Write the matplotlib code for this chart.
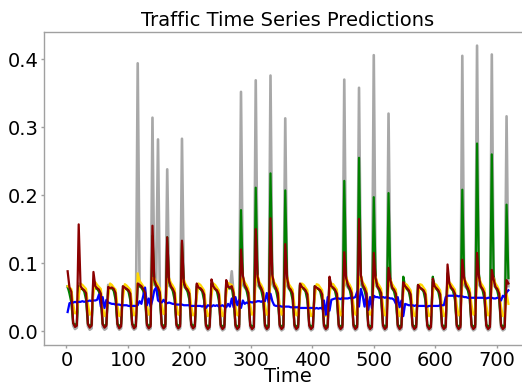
import numpy as np
import matplotlib
matplotlib.use("Agg")
import matplotlib.pyplot as plt

# Hours of the day at which each series is sampled (every 3 hours)
hours = [2, 5, 8, 11, 14, 17, 20, 23]

# Observed traffic, one row per day
actual = [
    [0.064, 0.060, 0.056, 0.008, 0.003, 0.005, 0.070, 0.064],
    [0.062, 0.060, 0.055, 0.007, 0.002, 0.004, 0.075, 0.066],
    [0.063, 0.061, 0.054, 0.006, 0.002, 0.004, 0.068, 0.065],
    [0.064, 0.062, 0.055, 0.006, 0.002, 0.004, 0.066, 0.063],
    [0.062, 0.060, 0.054, 0.006, 0.002, 0.004, 0.394, 0.066],
    [0.064, 0.061, 0.055, 0.005, 0.002, 0.004, 0.314, 0.068],
    [0.066, 0.282, 0.056, 0.006, 0.002, 0.004, 0.238, 0.067],
    [0.064, 0.062, 0.055, 0.006, 0.002, 0.004, 0.283, 0.066],
    [0.063, 0.061, 0.054, 0.006, 0.002, 0.004, 0.068, 0.064],
    [0.062, 0.060, 0.053, 0.005, 0.001, 0.003, 0.070, 0.064],
    [0.062, 0.060, 0.053, 0.005, 0.001, 0.003, 0.069, 0.063],
    [0.062, 0.088, 0.054, 0.005, 0.001, 0.003, 0.352, 0.068],
    [0.064, 0.061, 0.055, 0.005, 0.001, 0.003, 0.369, 0.068],
    [0.064, 0.061, 0.055, 0.005, 0.001, 0.003, 0.376, 0.069],
    [0.064, 0.061, 0.055, 0.005, 0.001, 0.003, 0.313, 0.067],
    [0.062, 0.060, 0.054, 0.005, 0.001, 0.003, 0.068, 0.064],
    [0.062, 0.060, 0.054, 0.005, 0.001, 0.003, 0.066, 0.063],
    [0.062, 0.060, 0.053, 0.005, 0.001, 0.003, 0.072, 0.064],
    [0.063, 0.060, 0.054, 0.005, 0.001, 0.003, 0.370, 0.068],
    [0.064, 0.061, 0.055, 0.005, 0.001, 0.003, 0.358, 0.069],
    [0.064, 0.061, 0.055, 0.005, 0.001, 0.003, 0.406, 0.068],
    [0.064, 0.061, 0.055, 0.005, 0.001, 0.003, 0.320, 0.067],
    [0.062, 0.060, 0.054, 0.005, 0.001, 0.003, 0.070, 0.064],
    [0.062, 0.060, 0.054, 0.005, 0.001, 0.003, 0.067, 0.063],
    [0.062, 0.060, 0.053, 0.005, 0.001, 0.003, 0.072, 0.064],
    [0.062, 0.060, 0.053, 0.005, 0.001, 0.003, 0.075, 0.065],
    [0.063, 0.060, 0.054, 0.005, 0.001, 0.003, 0.405, 0.068],
    [0.064, 0.061, 0.055, 0.005, 0.001, 0.003, 0.420, 0.069],
    [0.064, 0.061, 0.055, 0.005, 0.001, 0.003, 0.407, 0.068],
    [0.064, 0.061, 0.055, 0.005, 0.001, 0.003, 0.316, 0.066],
]

# Model predictions, one row per day
pred_green = [
    [0.066, 0.055, 0.042, 0.012, 0.008, 0.012, 0.066, 0.062],
    [0.062, 0.058, 0.046, 0.011, 0.007, 0.010, 0.070, 0.063],
    [0.062, 0.058, 0.046, 0.011, 0.007, 0.010, 0.062, 0.063],
    [0.063, 0.059, 0.046, 0.011, 0.007, 0.010, 0.062, 0.062],
    [0.062, 0.058, 0.045, 0.011, 0.007, 0.010, 0.066, 0.066],
    [0.064, 0.059, 0.046, 0.011, 0.007, 0.010, 0.140, 0.072],
    [0.066, 0.060, 0.047, 0.011, 0.007, 0.010, 0.138, 0.072],
    [0.065, 0.059, 0.046, 0.011, 0.007, 0.010, 0.130, 0.070],
    [0.063, 0.058, 0.046, 0.011, 0.007, 0.010, 0.066, 0.063],
    [0.062, 0.058, 0.045, 0.010, 0.006, 0.009, 0.070, 0.064],
    [0.062, 0.058, 0.045, 0.010, 0.006, 0.009, 0.070, 0.064],
    [0.063, 0.064, 0.046, 0.010, 0.006, 0.009, 0.178, 0.080],
    [0.066, 0.060, 0.047, 0.010, 0.006, 0.009, 0.211, 0.082],
    [0.066, 0.060, 0.047, 0.010, 0.006, 0.009, 0.232, 0.082],
    [0.066, 0.060, 0.047, 0.010, 0.006, 0.009, 0.207, 0.080],
    [0.063, 0.058, 0.046, 0.010, 0.006, 0.009, 0.068, 0.064],
    [0.062, 0.058, 0.045, 0.010, 0.006, 0.009, 0.066, 0.063],
    [0.062, 0.058, 0.045, 0.010, 0.006, 0.009, 0.076, 0.065],
    [0.063, 0.059, 0.046, 0.010, 0.006, 0.009, 0.221, 0.080],
    [0.066, 0.060, 0.047, 0.010, 0.006, 0.009, 0.255, 0.082],
    [0.066, 0.060, 0.047, 0.010, 0.006, 0.009, 0.197, 0.080],
    [0.065, 0.059, 0.046, 0.010, 0.006, 0.009, 0.203, 0.078],
    [0.063, 0.058, 0.046, 0.010, 0.006, 0.009, 0.080, 0.066],
    [0.062, 0.058, 0.045, 0.010, 0.006, 0.009, 0.068, 0.063],
    [0.062, 0.058, 0.045, 0.010, 0.006, 0.009, 0.080, 0.066],
    [0.062, 0.058, 0.045, 0.010, 0.006, 0.009, 0.085, 0.068],
    [0.063, 0.059, 0.046, 0.010, 0.006, 0.009, 0.208, 0.080],
    [0.066, 0.060, 0.047, 0.010, 0.006, 0.009, 0.276, 0.084],
    [0.066, 0.060, 0.047, 0.010, 0.006, 0.009, 0.260, 0.082],
    [0.065, 0.059, 0.046, 0.010, 0.006, 0.009, 0.186, 0.078],
]

pred_gold = [
    [0.066, 0.064, 0.062, 0.040, 0.026, 0.027, 0.050, 0.070],
    [0.068, 0.065, 0.062, 0.040, 0.024, 0.026, 0.056, 0.072],
    [0.068, 0.065, 0.062, 0.038, 0.022, 0.025, 0.050, 0.070],
    [0.068, 0.064, 0.061, 0.038, 0.022, 0.025, 0.048, 0.069],
    [0.067, 0.064, 0.061, 0.038, 0.023, 0.026, 0.085, 0.074],
    [0.070, 0.066, 0.062, 0.039, 0.024, 0.027, 0.078, 0.078],
    [0.072, 0.068, 0.063, 0.040, 0.025, 0.027, 0.075, 0.078],
    [0.071, 0.067, 0.062, 0.039, 0.024, 0.026, 0.072, 0.076],
    [0.069, 0.065, 0.061, 0.038, 0.023, 0.025, 0.050, 0.070],
    [0.068, 0.064, 0.060, 0.037, 0.022, 0.025, 0.052, 0.070],
    [0.068, 0.064, 0.060, 0.037, 0.022, 0.025, 0.054, 0.071],
    [0.069, 0.068, 0.061, 0.038, 0.023, 0.026, 0.070, 0.080],
    [0.072, 0.068, 0.062, 0.039, 0.024, 0.027, 0.074, 0.082],
    [0.072, 0.068, 0.062, 0.039, 0.024, 0.027, 0.076, 0.082],
    [0.072, 0.068, 0.062, 0.039, 0.024, 0.027, 0.072, 0.080],
    [0.069, 0.065, 0.061, 0.038, 0.023, 0.025, 0.052, 0.070],
    [0.068, 0.064, 0.060, 0.037, 0.022, 0.025, 0.050, 0.069],
    [0.068, 0.064, 0.060, 0.037, 0.022, 0.025, 0.054, 0.070],
    [0.069, 0.065, 0.061, 0.038, 0.023, 0.026, 0.070, 0.080],
    [0.072, 0.068, 0.062, 0.039, 0.024, 0.027, 0.074, 0.082],
    [0.072, 0.068, 0.062, 0.039, 0.024, 0.027, 0.072, 0.080],
    [0.071, 0.067, 0.062, 0.038, 0.023, 0.026, 0.066, 0.076],
    [0.069, 0.065, 0.061, 0.037, 0.022, 0.025, 0.056, 0.070],
    [0.068, 0.064, 0.060, 0.037, 0.022, 0.025, 0.050, 0.069],
    [0.068, 0.064, 0.060, 0.037, 0.022, 0.025, 0.056, 0.070],
    [0.068, 0.064, 0.060, 0.037, 0.022, 0.025, 0.060, 0.072],
    [0.069, 0.065, 0.061, 0.038, 0.023, 0.026, 0.068, 0.078],
    [0.072, 0.068, 0.062, 0.039, 0.024, 0.027, 0.074, 0.080],
    [0.071, 0.067, 0.062, 0.038, 0.023, 0.026, 0.070, 0.078],
    [0.070, 0.066, 0.060, 0.036, 0.022, 0.025, 0.056, 0.040],
]

pred_blue = [
    [0.028, 0.041, 0.042, 0.042, 0.043, 0.042, 0.043, 0.043],
    [0.044, 0.043, 0.044, 0.044, 0.045, 0.044, 0.045, 0.045],
    [0.046, 0.054, 0.036, 0.050, 0.034, 0.046, 0.042, 0.041],
    [0.040, 0.040, 0.039, 0.039, 0.039, 0.038, 0.038, 0.038],
    [0.038, 0.037, 0.037, 0.037, 0.037, 0.037, 0.038, 0.044],
    [0.040, 0.052, 0.064, 0.038, 0.048, 0.036, 0.046, 0.060],
    [0.064, 0.045, 0.043, 0.042, 0.046, 0.042, 0.041, 0.042],
    [0.041, 0.040, 0.040, 0.039, 0.039, 0.039, 0.039, 0.038],
    [0.038, 0.038, 0.038, 0.037, 0.037, 0.037, 0.037, 0.037],
    [0.037, 0.036, 0.038, 0.034, 0.038, 0.037, 0.036, 0.038],
    [0.037, 0.038, 0.036, 0.037, 0.038, 0.036, 0.035, 0.040],
    [0.036, 0.048, 0.035, 0.050, 0.038, 0.046, 0.034, 0.045],
    [0.040, 0.042, 0.041, 0.043, 0.042, 0.043, 0.043, 0.044],
    [0.044, 0.043, 0.045, 0.044, 0.056, 0.042, 0.055, 0.044],
    [0.038, 0.037, 0.037, 0.037, 0.036, 0.036, 0.036, 0.036],
    [0.036, 0.035, 0.035, 0.035, 0.035, 0.035, 0.034, 0.034],
    [0.034, 0.034, 0.034, 0.034, 0.034, 0.034, 0.033, 0.034],
    [0.033, 0.034, 0.033, 0.045, 0.024, 0.050, 0.030, 0.046],
    [0.047, 0.048, 0.048, 0.048, 0.047, 0.049, 0.048, 0.048],
    [0.048, 0.049, 0.048, 0.049, 0.050, 0.058, 0.036, 0.062],
    [0.052, 0.036, 0.055, 0.031, 0.050, 0.034, 0.052, 0.050],
    [0.050, 0.049, 0.050, 0.050, 0.049, 0.050, 0.049, 0.048],
    [0.048, 0.046, 0.040, 0.050, 0.035, 0.045, 0.022, 0.040],
    [0.039, 0.038, 0.038, 0.038, 0.037, 0.038, 0.037, 0.037],
    [0.037, 0.037, 0.037, 0.036, 0.037, 0.037, 0.037, 0.037],
    [0.037, 0.037, 0.038, 0.038, 0.038, 0.050, 0.052, 0.052],
    [0.052, 0.052, 0.052, 0.052, 0.051, 0.052, 0.051, 0.050],
    [0.050, 0.049, 0.049, 0.049, 0.049, 0.049, 0.049, 0.049],
    [0.049, 0.049, 0.049, 0.048, 0.049, 0.049, 0.049, 0.048],
    [0.048, 0.049, 0.049, 0.045, 0.052, 0.050, 0.057, 0.060],
]

pred_red = [
    [0.088, 0.064, 0.058, 0.012, 0.006, 0.008, 0.157, 0.066],
    [0.062, 0.060, 0.056, 0.010, 0.005, 0.008, 0.087, 0.066],
    [0.063, 0.061, 0.055, 0.010, 0.005, 0.008, 0.065, 0.063],
    [0.064, 0.062, 0.056, 0.010, 0.004, 0.007, 0.066, 0.064],
    [0.062, 0.060, 0.055, 0.010, 0.004, 0.007, 0.070, 0.068],
    [0.066, 0.062, 0.056, 0.009, 0.004, 0.007, 0.155, 0.075],
    [0.068, 0.064, 0.057, 0.009, 0.004, 0.007, 0.138, 0.074],
    [0.066, 0.062, 0.056, 0.009, 0.004, 0.007, 0.133, 0.072],
    [0.064, 0.061, 0.055, 0.009, 0.004, 0.007, 0.070, 0.064],
    [0.063, 0.060, 0.054, 0.008, 0.003, 0.006, 0.076, 0.066],
    [0.062, 0.060, 0.054, 0.008, 0.003, 0.006, 0.075, 0.065],
    [0.064, 0.066, 0.056, 0.008, 0.003, 0.006, 0.120, 0.082],
    [0.068, 0.063, 0.056, 0.008, 0.003, 0.006, 0.150, 0.080],
    [0.068, 0.063, 0.056, 0.008, 0.003, 0.006, 0.166, 0.082],
    [0.068, 0.063, 0.056, 0.008, 0.003, 0.006, 0.128, 0.078],
    [0.064, 0.061, 0.055, 0.008, 0.003, 0.006, 0.070, 0.065],
    [0.063, 0.060, 0.054, 0.008, 0.003, 0.006, 0.066, 0.064],
    [0.062, 0.060, 0.054, 0.008, 0.003, 0.006, 0.080, 0.066],
    [0.064, 0.061, 0.055, 0.008, 0.003, 0.006, 0.116, 0.078],
    [0.068, 0.063, 0.056, 0.008, 0.003, 0.006, 0.165, 0.082],
    [0.068, 0.063, 0.056, 0.008, 0.003, 0.006, 0.115, 0.078],
    [0.066, 0.062, 0.056, 0.008, 0.003, 0.006, 0.093, 0.075],
    [0.064, 0.061, 0.055, 0.008, 0.003, 0.006, 0.072, 0.066],
    [0.063, 0.060, 0.054, 0.008, 0.003, 0.006, 0.068, 0.064],
    [0.062, 0.060, 0.054, 0.008, 0.003, 0.006, 0.077, 0.066],
    [0.063, 0.060, 0.054, 0.008, 0.003, 0.006, 0.098, 0.070],
    [0.064, 0.061, 0.055, 0.008, 0.003, 0.006, 0.105, 0.078],
    [0.068, 0.063, 0.056, 0.008, 0.003, 0.006, 0.115, 0.080],
    [0.066, 0.062, 0.056, 0.008, 0.003, 0.006, 0.090, 0.076],
    [0.065, 0.062, 0.055, 0.008, 0.003, 0.006, 0.075, 0.070],
]

x_ticks = [0, 100, 200, 300, 400, 500, 600, 700]
y_ticks = [0.0, 0.1, 0.2, 0.3, 0.4]

n_days = len(actual)
t = (24 * np.arange(n_days)[:, None] + np.array(hours)[None, :]).ravel()

fig = plt.figure(figsize=(5.22, 3.87), dpi=100)
ax = fig.add_axes([44.3 / 522, 42 / 387, (530.5 - 44.3) / 522, (345 - 31.7) / 387])

ax.plot(t, np.ravel(actual), color="#a8a8a8", lw=1.9, zorder=1)
ax.plot(t, np.ravel(pred_green), color="green", lw=1.6, zorder=2)
ax.plot(t, np.ravel(pred_gold), color="gold", lw=1.6, zorder=3)
ax.plot(t, np.ravel(pred_blue), color="blue", lw=1.6, zorder=4)
ax.plot(t, np.ravel(pred_red), color="darkred", lw=1.6, zorder=5)

ax.set_xlim(-35.95, 754.95)
ax.set_ylim(-0.0205, 0.4405)
ax.set_xticks(x_ticks)
ax.set_yticks(y_ticks)
ax.set_xticklabels([str(v) for v in x_ticks])
ax.set_yticklabels([f"{v:.1f}" for v in y_ticks])

for s in ax.spines.values():
    s.set_color("#a0a0a0")
    s.set_linewidth(1.0)
ax.tick_params(axis="both", labelsize=14, length=2.5, width=1.0,
               color="#a0a0a0", pad=1.5)

ax.set_title("Traffic Time Series Predictions", fontsize=14, pad=4)
ax.set_xlabel("Time", fontsize=14, labelpad=-2)

fig.savefig("out.png", dpi=100)
